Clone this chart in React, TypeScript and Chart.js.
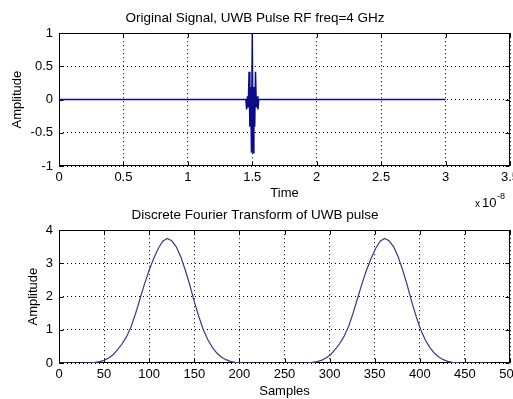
import { useEffect, useRef } from "react";
import { Chart, registerables } from "chart.js";

Chart.register(...registerables);

// ---- Data (top: time in units of 1e-8 s) ----
const pulseTime = [
  0, 1.45, 1.45625, 1.4625, 1.46875, 1.475, 1.48125, 1.4875, 1.49375, 1.5,
  1.50625, 1.5125, 1.51875, 1.525, 1.53125, 1.5375, 1.54375, 1.55, 3,
];
const pulseAmp = [
  0, 0, -0.15, 0.05, -0.12, 0.42, -0.41, 0.19, -0.8, 1,
  -0.8, 0.19, -0.41, 0.42, -0.12, 0.05, -0.15, 0, 0,
];

// ---- Data (bottom: DFT magnitude vs sample index) ----
const dftSample = [
  0, 30, 40, 45, 50, 55, 60, 65, 70, 75, 80, 85, 90, 95, 100, 105, 110, 115, 120,
  125, 130, 135, 140, 145, 150, 155, 160, 165, 170, 175, 180, 185, 190, 195, 200, 205,
  271, 281, 286, 291, 296, 301, 306, 311, 316, 321, 326, 331, 336, 341, 346, 351, 356, 361,
  366, 371, 376, 381, 386, 391, 396, 401, 406, 411, 416, 421, 426, 431, 436, 441, 446,
  480,
];
const dftAmp = [
  0, 0, 0.02, 0.04, 0.08, 0.15, 0.25, 0.4, 0.58, 0.8, 1.1, 1.5, 1.95, 2.4, 2.8, 3.15, 3.45, 3.67, 3.75,
  3.68, 3.5, 3.2, 2.8, 2.35, 1.85, 1.4, 1.0, 0.7, 0.47, 0.3, 0.18, 0.1, 0.05, 0.02, 0.01, 0,
  0, 0.02, 0.04, 0.08, 0.15, 0.25, 0.4, 0.58, 0.8, 1.1, 1.5, 1.95, 2.4, 2.8, 3.15, 3.45, 3.67, 3.75,
  3.68, 3.5, 3.2, 2.8, 2.35, 1.85, 1.4, 1.0, 0.7, 0.47, 0.3, 0.18, 0.1, 0.05, 0.02, 0.01, 0,
  0,
];

const topTitle = "Original Signal, UWB Pulse RF freq=4 GHz";
const bottomTitle = "Discrete Fourier Transform of UWB pulse";
const topXLabel = "Time";
const bottomXLabel = "Samples";
const yLabel = "Amplitude";

const FONT = "'Liberation Sans', Arial, Helvetica, sans-serif";

const matlabBox = {
  id: "matlabBox",
  beforeDatasetsDraw(chart: any) {
    const { ctx, chartArea: a, scales } = chart;
    ctx.save();
    ctx.strokeStyle = "#000";
    ctx.lineWidth = 1;
    ctx.setLineDash([]);
    const l = Math.round(a.left) + 0.5;
    const r = Math.round(a.right) - 0.5;
    const t = Math.round(a.top) + 0.5;
    const b = Math.round(a.bottom) - 0.5;
    ctx.strokeRect(l, t, r - l, b - t);
    const L = 4;
    ctx.beginPath();
    scales.x.ticks.forEach((tk: any) => {
      const px = Math.round(scales.x.getPixelForValue(tk.value)) + 0.5;
      ctx.moveTo(px, b);
      ctx.lineTo(px, b - L);
      ctx.moveTo(px, t);
      ctx.lineTo(px, t + L);
    });
    scales.y.ticks.forEach((tk: any) => {
      const py = Math.round(scales.y.getPixelForValue(tk.value)) + 0.5;
      ctx.moveTo(l, py);
      ctx.lineTo(l + L, py);
      ctx.moveTo(r, py);
      ctx.lineTo(r - L, py);
    });
    ctx.stroke();
    ctx.restore();
  },
};

const exponentLabel = {
  id: "exponentLabel",
  afterDraw(chart: any) {
    const { ctx } = chart;
    ctx.save();
    ctx.fillStyle = "#000";
    ctx.textBaseline = "alphabetic";
    ctx.textAlign = "left";
    ctx.font = `10px ${FONT}`;
    ctx.fillText("x", 475, 207);
    ctx.font = `13px ${FONT}`;
    ctx.fillText("10", 482, 207);
    ctx.font = `9px ${FONT}`;
    ctx.fillText("-8", 497, 199);
    ctx.restore();
  },
};

function makeOptions(cfg: {
  title: string;
  titlePad: { top: number; bottom: number };
  xLabel: string;
  xLabelPad: number;
  xHeight: number;
  yLabelPad: number;
  xMin: number;
  xMax: number;
  xStep: number;
  yMin: number;
  yMax: number;
  yStep: number;
  xTickPad: number;
}) {
  const gridCommon = {
    color: "#000",
    lineWidth: 1,
    drawTicks: false,
  };
  const fmt = (v: any) => String(Number(Number(v).toFixed(6)));
  return {
    responsive: false,
    animation: false as const,
    devicePixelRatio: 1,
    layout: { padding: { left: 0, right: 3, top: 0, bottom: 0 } },
    plugins: {
      legend: { display: false },
      tooltip: { enabled: false },
      title: {
        display: true,
        text: cfg.title,
        color: "#000",
        font: { family: FONT, size: 13.5, weight: "normal" as const },
        padding: cfg.titlePad,
      },
    },
    elements: { point: { radius: 0 }, line: { tension: 0 } },
    scales: {
      x: {
        type: "linear" as const,
        min: cfg.xMin,
        max: cfg.xMax,
        grid: gridCommon,
        border: { display: false, dash: [1, 3] },
        ticks: {
          stepSize: cfg.xStep,
          autoSkip: false,
          maxRotation: 0,
          padding: cfg.xTickPad,
          color: "#000",
          font: { family: FONT, size: 13 },
          callback: fmt,
        },
        title: {
          display: true,
          text: cfg.xLabel,
          color: "#000",
          font: { family: FONT, size: 13 },
          padding: { top: 0, bottom: cfg.xLabelPad },
        },
        afterFit(scale: any) {
          scale.height = cfg.xHeight;
          scale.paddingLeft = 0;
          scale.paddingRight = 0;
        },
      },
      y: {
        type: "linear" as const,
        min: cfg.yMin,
        max: cfg.yMax,
        grid: gridCommon,
        border: { display: false, dash: [1, 3] },
        ticks: {
          stepSize: cfg.yStep,
          autoSkip: false,
          padding: 6,
          color: "#000",
          font: { family: FONT, size: 13 },
          callback: fmt,
        },
        title: {
          display: true,
          text: yLabel,
          color: "#000",
          font: { family: FONT, size: 13 },
          padding: { top: cfg.yLabelPad, bottom: 0 },
        },
        afterFit(scale: any) {
          scale.width = 59;
          scale.paddingTop = 0;
          scale.paddingBottom = 0;
        },
      },
    },
  };
}

export default function App() {
  const topRef = useRef<HTMLCanvasElement | null>(null);
  const botRef = useRef<HTMLCanvasElement | null>(null);

  useEffect(() => {
    if (!topRef.current || !botRef.current) return;
    const topChart = new Chart(topRef.current, {
      type: "line",
      data: {
        datasets: [
          {
            data: pulseTime.map((t, i) => ({ x: t, y: pulseAmp[i] })),
            borderColor: "#0b0b8c",
            borderWidth: 1.5,
            pointRadius: 0,
            fill: false,
          },
        ],
      },
      options: makeOptions({
        title: topTitle,
        titlePad: { top: 10, bottom: 7 },
        xLabel: topXLabel,
        xLabelPad: 12.2,
        xHeight: 47,
        yLabelPad: 9.2,
        xMin: 0,
        xMax: 3.5,
        xStep: 0.5,
        yMin: -1,
        yMax: 1,
        yStep: 0.5,
        xTickPad: 3.2,
      }) as any,
      plugins: [matlabBox, exponentLabel],
    });

    const botChart = new Chart(botRef.current, {
      type: "line",
      data: {
        datasets: [
          {
            data: dftSample.map((s, i) => ({ x: s, y: dftAmp[i] })),
            borderColor: "#3a3a8e",
            borderWidth: 1.2,
            pointRadius: 0,
            fill: false,
          },
        ],
      },
      options: makeOptions({
        title: bottomTitle,
        titlePad: { top: 7, bottom: 7 },
        xLabel: bottomXLabel,
        xLabelPad: 0,
        xHeight: 36,
        yLabelPad: 25.2,
        xMin: 0,
        xMax: 500,
        xStep: 50,
        yMin: 0,
        yMax: 4,
        yStep: 1,
        xTickPad: 4,
      }) as any,
      plugins: [matlabBox],
    });

    return () => {
      topChart.destroy();
      botChart.destroy();
    };
  }, []);

  return (
    <div
      style={{
        position: "fixed",
        left: 0,
        top: 0,
        width: 513,
        height: 399,
        background: "#fff",
        overflow: "hidden",
      }}
    >
      <canvas
        ref={topRef}
        width={513}
        height={213}
        style={{ position: "absolute", left: 0, top: 0 }}
      />
      <canvas
        ref={botRef}
        width={513}
        height={199}
        style={{ position: "absolute", left: 0, top: 200 }}
      />
    </div>
  );
}
